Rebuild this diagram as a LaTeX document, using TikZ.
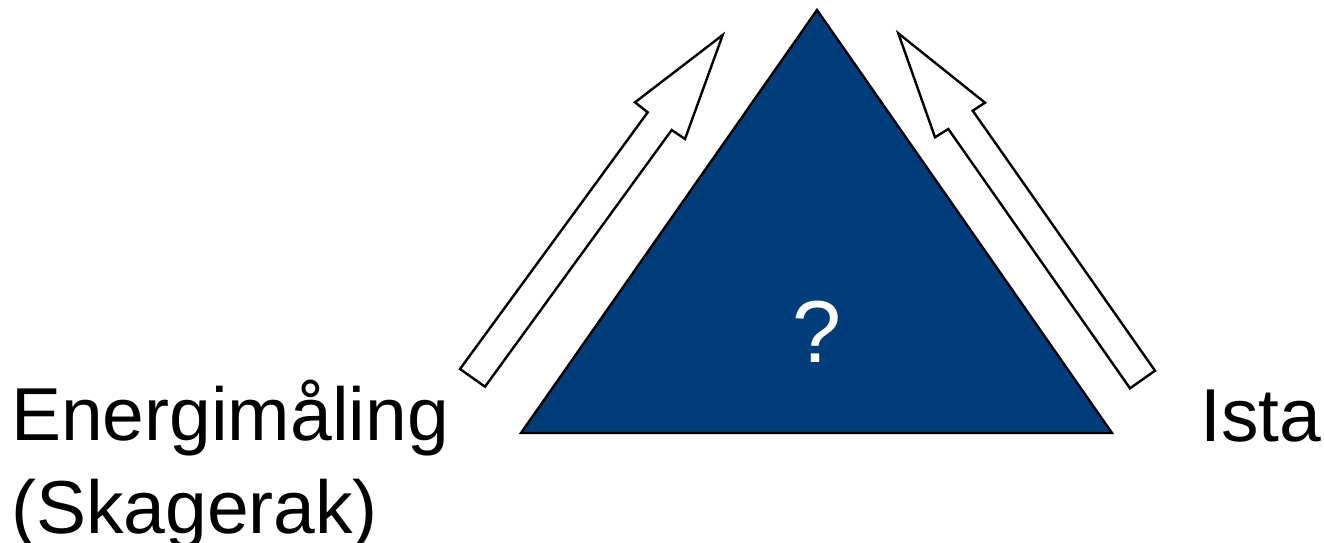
\documentclass[tikz,border=0pt]{standalone}
\usepackage{fontspec}
\setmainfont{Liberation Sans}
\definecolor{tri}{RGB}{0,61,122}
\begin{document}
\begin{tikzpicture}[x=1pt,y=-1pt,
  outline/.style={draw=black,line width=2.4pt,line join=miter},
  label/.style={inner sep=0pt,font=\fontsize{75}{90}\selectfont,text=black}]
\useasboundingbox (0,0) rectangle (1324,542);
% triangle
\coordinate (apex) at (817,10);
\coordinate (bl) at (521,433);
\coordinate (br) at (1112,433);
\filldraw[outline,fill=tri] (apex) -- (br) -- (bl) -- cycle;
\node[inner sep=0pt,anchor=base,text=white,font=\fontsize{88}{100}\selectfont] (q) at (817,362) {?};
% left arrow
\draw[outline,fill=white] (722.7,35) -- (685,139) -- (671.7,130) -- (485,386.7) -- (460,369) -- (647.7,112.3) -- (635,102.3) -- cycle;
% right arrow
\draw[outline,fill=white] (898.3,33.3) -- (985,102.7) -- (972.7,110.7) -- (1155,370.7) -- (1130,388.3) -- (948.3,129) -- (935,137.3) -- cycle;
% labels
\node[label,anchor=base west] (e1) at (11,440) {Energimåling};
\node[label,anchor=base west] (e2) at (11,533) {(Skagerak)};
\node[label,anchor=base west] (ista) at (1200,441) {Ista};
\end{tikzpicture}
\end{document}
